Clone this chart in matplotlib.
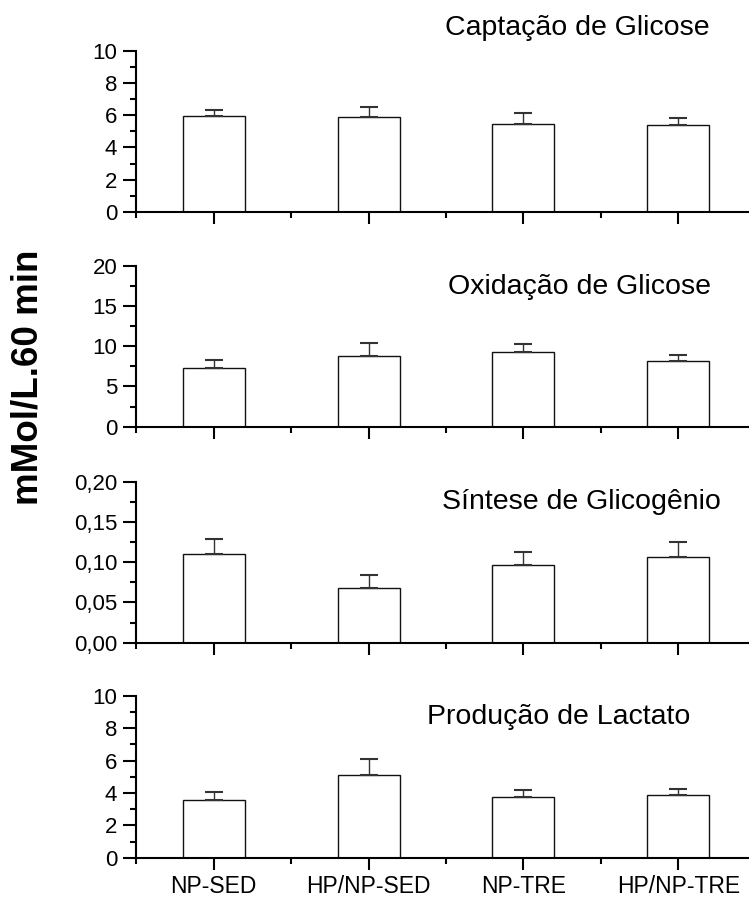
import matplotlib
matplotlib.use("Agg")
import matplotlib.pyplot as plt
from matplotlib.ticker import MultipleLocator, FuncFormatter

plt.rcParams['font.family'] = ['Liberation Sans', 'DejaVu Sans']

groups = ["NP-SED", "HP/NP-SED", "NP-TRE", "HP/NP-TRE"]

captacao_mean = [5.93, 5.89, 5.48, 5.41]
captacao_err = [0.39, 0.62, 0.68, 0.42]

oxidacao_mean = [7.33, 8.82, 9.23, 8.20]
oxidacao_err = [0.91, 1.53, 1.08, 0.74]

sintese_mean = [0.110, 0.0675, 0.096, 0.107]
sintese_err = [0.0188, 0.0165, 0.017, 0.0176]

lactato_mean = [3.56, 5.12, 3.77, 3.87]
lactato_err = [0.49, 0.97, 0.39, 0.39]

titles = ["Captação de Glicose", "Oxidação de Glicose",
          "Síntese de Glicogênio", "Produção de Lactato"]
ylims = [10, 20, 0.20, 10]
major_steps = [2, 5, 0.05, 2]
minor_steps = [1, 2.5, 0.025, 1]
means = [captacao_mean, oxidacao_mean, sintese_mean, lactato_mean]
errs = [captacao_err, oxidacao_err, sintese_err, lactato_err]

W, H = 749, 901
fig = plt.figure(figsize=(W / 100, H / 100), dpi=100)

# panel extents in pixels: (top, bottom)
panels_px = [(50.7, 212.0), (265.7, 426.7), (481.7, 642.7), (695.7, 857.7)]
left_px = 136.4
title_pos = [(577, 28), (579, 287), (581, 502), (559, 717)]

x = [1, 2, 3, 4]

for i, (top, bot) in enumerate(panels_px):
    ax = fig.add_axes([left_px / W, 1 - bot / H, 1 - left_px / W, (bot - top) / H])
    ax.bar(x, means[i], width=0.4, color="white", edgecolor="#111111",
           linewidth=1.0, zorder=2)
    ax.errorbar(x, means[i], yerr=[[0] * 4, errs[i]], fmt="none",
                ecolor="#333333", elinewidth=1.0, capsize=6.5, capthick=1.5,
                zorder=3)
    ax.set_xlim(0.5, 4.457)
    ax.set_ylim(0, ylims[i])
    for s in ["top", "right"]:
        ax.spines[s].set_visible(False)
    for s in ["left", "bottom"]:
        ax.spines[s].set_linewidth(1.5)
    ax.set_xticks(x)
    ax.set_xticks([0.5, 1.5, 2.5, 3.5], minor=True)
    ax.yaxis.set_major_locator(MultipleLocator(major_steps[i]))
    ax.yaxis.set_minor_locator(MultipleLocator(minor_steps[i]))
    if i == 2:
        ax.yaxis.set_major_formatter(
            FuncFormatter(lambda v, p: f"{v:.2f}".replace(".", ",")))
    else:
        ax.yaxis.set_major_formatter(FuncFormatter(lambda v, p: f"{v:g}"))
    ax.tick_params(axis="y", which="major", length=9.4, width=1.5,
                   labelsize=16, pad=4.3)
    ax.tick_params(axis="y", which="minor", length=4.3, width=1.5)
    ax.tick_params(axis="x", which="major", length=8.6, width=1.5,
                   labelsize=16.5, pad=3.5)
    ax.tick_params(axis="x", which="minor", length=4.5, width=1.5)
    if i == 3:
        ax.set_xticklabels(groups)
    else:
        ax.set_xticklabels([])
    tx, ty = title_pos[i]
    fig.text(tx / W, 1 - ty / H, titles[i], fontsize=20.5, ha="center",
             va="center")

fig.text(28 / W, 1 - 377 / H, "mMol/L.60 min", fontsize=26.5,
         fontweight="bold", rotation=90, ha="center", va="center")

fig.savefig("out.png", dpi=100)
